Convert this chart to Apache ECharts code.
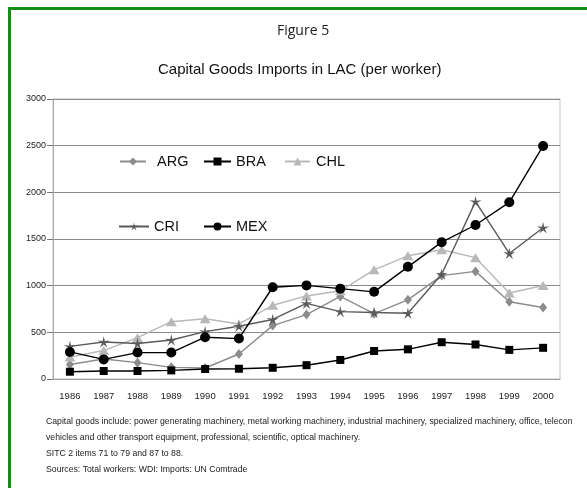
<!DOCTYPE html>
<html>
<head>
<meta charset="utf-8">
<title>Capital Goods Imports in LAC</title>
<script src="https://cdn.jsdelivr.net/npm/echarts@6/dist/echarts.min.js"></script>
<style>
  html, body { margin: 0; padding: 0; background: #fff; }
  #chart { width: 587px; height: 488px; }
</style>
</head>
<body>
<div id="chart"></div>
<script>
// data (US$ per worker)
const years = ['1986', '1987', '1988', '1989', '1990', '1991', '1992', '1993',
  '1994', '1995', '1996', '1997', '1998', '1999', '2000']
const arg = [155, 214, 175, 125, 118, 268, 572, 690, 885, 700, 848, 1108, 1153, 828, 766]
const bra = [78, 86, 86, 92, 107, 110, 120, 148, 204, 300, 318, 394, 370, 312, 334]
const chl = [235, 305, 443, 614, 645, 590, 790, 890, 945, 1170, 1320, 1385, 1300, 922, 1002]
const cri = [350, 397, 380, 418, 508, 565, 638, 810, 722, 712, 705, 1122, 1900, 1345, 1620]
const mex = [290, 210, 283, 283, 448, 433, 983, 1003, 968, 934, 1202, 1466, 1650, 1893, 2497]

const footnote = [
  'Capital goods include: power generating machinery, metal working machinery, industrial machinery, specialized machinery, office, telecon',
  'vehicles and other transport equipment, professional, scientific, optical machinery.',
  'SITC 2 items 71 to 79 and 87 to 88.',
  'Sources: Total workers: WDI: Imports: UN Comtrade'
]

const font = 'Liberation Sans, Arial, sans-serif'
const star = 'path://M0,-10L1.76,-2.43L9.51,-3.09L2.85,0.93L5.88,8.09L0,3L-5.88,8.09L-2.85,0.93L-9.51,-3.09L-1.76,-2.43Z'

const mkLine = (name, data, color, symbol, size) => ({
  name: name,
  type: 'line',
  data: data,
  symbol: symbol,
  symbolSize: size,
  symbolKeepAspect: true,
  showAllSymbol: true,
  color: color,
  lineStyle: { color: color, width: 1.4 },
  itemStyle: { color: color },
  emphasis: { disabled: true }
})

// one legend per entry so each sits where it does in the figure
const mkLegend = (name, left, top, w, pad) => ({
  data: [name],
  left: left,
  top: top,
  padding: 0,
  itemWidth: w,
  itemHeight: 10,
  selectedMode: false,
  textStyle: { fontSize: 14.5, fontFamily: font, color: '#111', padding: [0, 0, 0, pad] }
})

const chart = echarts.init(document.getElementById('chart'))

const option = {
  animation: false,
  backgroundColor: '#fff',
  title: [
    {
      text: 'Figure 5',
      left: 277,
      top: 22,
      padding: 0,
      textStyle: { fontSize: 14, fontWeight: 'normal', fontFamily: 'Open Sans', color: '#222', lineHeight: 18 }
    },
    {
      text: 'Capital Goods Imports in LAC (per worker)',
      left: 158,
      top: 61,
      padding: 0,
      textStyle: { fontSize: 15, fontWeight: 'normal', fontFamily: font, color: '#111', lineHeight: 18 }
    },
    {
      text: footnote.join('\n'),
      left: 46,
      top: 414,
      padding: 0,
      textStyle: { fontSize: 8.7, fontWeight: 'normal', fontFamily: font, color: '#222', lineHeight: 16 }
    }
  ],
  legend: [
    mkLegend('ARG', 119, 154, 26, 6),
    mkLegend('BRA', 203, 154, 27, 0),
    mkLegend('CHL', 284, 154, 25, 1),
    mkLegend('CRI', 118, 219, 30, 0),
    mkLegend('MEX', 203, 219, 27, 0)
  ],
  grid: {
    left: 53,
    right: 27,
    top: 99,
    bottom: 109,
    show: true,
    borderColor: '#c4c4c4',
    borderWidth: 1
  },
  xAxis: {
    type: 'category',
    data: years,
    axisLine: { lineStyle: { color: '#999' } },
    axisTick: { length: 4, lineStyle: { color: '#777' } },
    axisLabel: { interval: 0, fontSize: 9.5, margin: 12, color: '#222', fontFamily: font }
  },
  yAxis: {
    type: 'value',
    min: 0,
    max: 3000,
    interval: 500,
    axisLine: { show: true, lineStyle: { color: '#aaa' } },
    axisTick: { show: true, length: 6, lineStyle: { color: '#777' } },
    axisLabel: { fontSize: 9, margin: 7, color: '#222', fontFamily: font, formatter: (v) => String(v) },
    splitLine: { lineStyle: { color: '#8a8a8a' } }
  },
  series: [
    mkLine('ARG', arg, '#8c8c8c', 'diamond', [8, 10]),
    mkLine('BRA', bra, '#000', 'rect', 8),
    mkLine('CHL', chl, '#b8b8b8', 'triangle', [11, 9]),
    mkLine('CRI', cri, '#5a5a5a', star, 12),
    mkLine('MEX', mex, '#000', 'circle', 10)
  ],
  graphic: [
    { type: 'rect', silent: true, shape: { x: 8, y: 7, width: 579, height: 3 }, style: { fill: '#168c16' } },
    { type: 'rect', silent: true, shape: { x: 8, y: 7, width: 3, height: 481 }, style: { fill: '#168c16' } }
  ]
}

chart.setOption(option)
</script>
</body>
</html>
